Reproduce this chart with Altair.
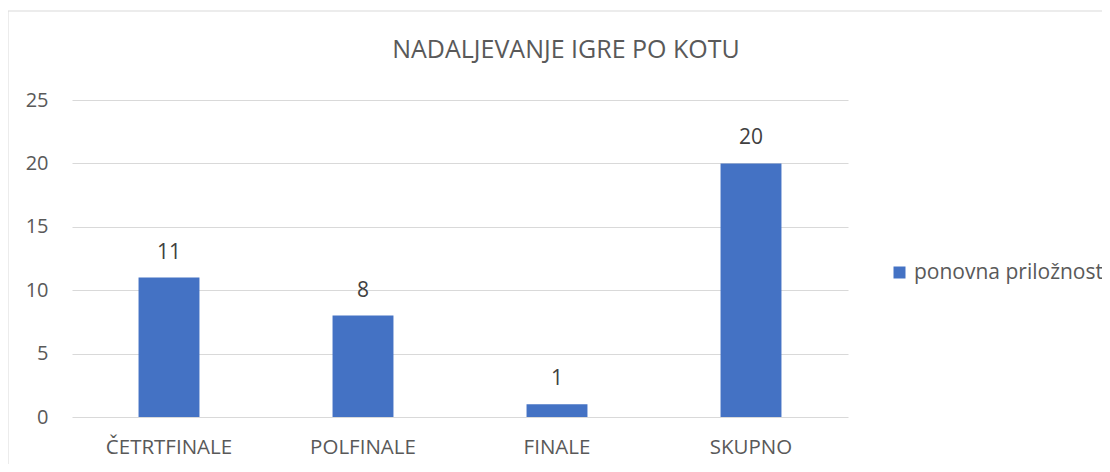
import altair as alt
import pandas as pd

categories = ["ČETRTFINALE", "POLFINALE", "FINALE", "SKUPNO"]
values = [11, 8, 1, 20]
series_name = "ponovna priložnost"
title_text = "NADALJEVANJE IGRE PO KOTU"

df = pd.DataFrame({"kat": categories, "vrednost": values, "serija": [series_name] * len(categories)})

FONT = "Open Sans"
GRAY = "#595959"

x_enc = alt.X("kat:N", sort=categories, title=None,
              scale=alt.Scale(paddingInner=0.686, paddingOuter=0.343),
              axis=alt.Axis(labelAngle=0, labelFont=FONT, labelFontSize=20.5, labelColor=GRAY,
                            labelPadding=20, ticks=False, domain=False, grid=False))
y_enc = alt.Y("vrednost:Q", title=None,
              scale=alt.Scale(domain=[0, 25], nice=False),
              axis=alt.Axis(values=[0, 5, 10, 15, 20, 25], labelFont=FONT, labelFontSize=20,
                            labelColor=GRAY, labelPadding=24, ticks=False, domain=False,
                            grid=True, gridColor="#d9d9d9", gridWidth=1))

bars = alt.Chart(df).mark_bar().encode(
    x=x_enc, y=y_enc,
    color=alt.Color("serija:N", scale=alt.Scale(range=["#4472C4"]),
                    legend=alt.Legend(title=None, orient="none", legendX=817, legendY=162,
                                      symbolType="square", symbolSize=144, symbolStrokeWidth=0,
                                      labelFont=FONT, labelFontSize=21, labelColor=GRAY,
                                      labelOffset=4, labelLimit=0))
)

labels = alt.Chart(df).mark_text(font=FONT, fontSize=21, color="#404040", baseline="alphabetic", dy=-19).encode(
    x=alt.X("kat:N", sort=categories), y="vrednost:Q", text="vrednost:Q"
)

border = alt.Chart(pd.DataFrame({"a": [0]})).mark_rect(fill=None, stroke="#d9d9d9", strokeWidth=1).encode(
    x=alt.value(-64), x2=alt.value(1300), y=alt.value(-89), y2=alt.value(700)
)

title = alt.Chart(pd.DataFrame({"t": [title_text]})).mark_text(
    font=FONT, fontSize=25, color=GRAY, baseline="alphabetic", align="center"
).encode(x=alt.value(494), y=alt.value(-42), text="t:N")

chart = alt.layer(border, bars, labels, title).properties(
    width=776, height=317,
    padding={"left": 64, "top": 92, "right": 254, "bottom": 47},
    autosize=alt.AutoSizeParams(type="none"),
).configure_view(stroke=None)

chart.save("out.html", embed_options={"renderer": "svg", "actions": False})
